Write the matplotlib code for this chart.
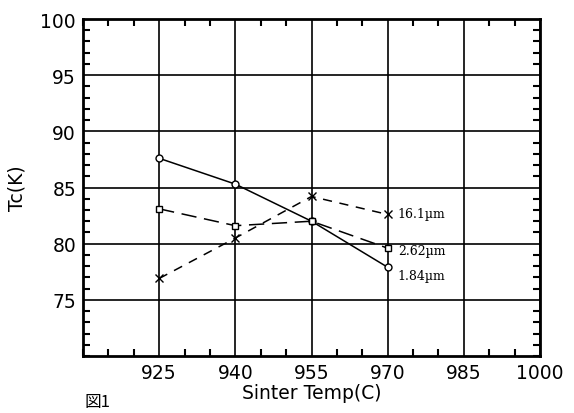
import matplotlib
matplotlib.use("Agg")
import matplotlib.pyplot as plt
from matplotlib.ticker import MultipleLocator, FixedLocator

temps = [925, 940, 955, 970]
tc_184 = [87.6, 85.3, 82.0, 77.9]
tc_262 = [83.1, 81.6, 82.0, 79.6]
tc_161 = [76.9, 80.5, 84.2, 82.6]
labels = ["16.1\u00b5m", "2.62\u00b5m", "1.84\u00b5m"]
xticks = [925, 940, 955, 970, 985, 1000]
yticks = [75, 80, 85, 90, 95, 100]

plt.rcParams['font.family'] = ['DejaVu Sans', 'Noto Sans CJK JP']

fig = plt.figure(figsize=(5.74, 4.14), dpi=100)
ax = fig.add_axes([83/574, 1 - 357/414, (540-83)/574, (357-20)/414])

ax.set_xlim(910, 1000)
ax.set_ylim(70, 100)
ax.xaxis.set_major_locator(FixedLocator(xticks))
ax.yaxis.set_major_locator(FixedLocator(yticks))
ax.xaxis.set_minor_locator(MultipleLocator(5))
ax.yaxis.set_minor_locator(MultipleLocator(1))
ax.grid(True, which='major', color='black', linewidth=1.2)
ax.tick_params(which='both', direction='in', top=True, right=True, colors='black', labelsize=13.5)
ax.tick_params(which='major', length=0, pad=5)
ax.tick_params(which='minor', length=5, width=1.5)
for s in ax.spines.values():
    s.set_linewidth(2)

ax.plot(temps, tc_184, '-', color='black', lw=1.1, marker='o', mfc='white', mec='black', ms=5, zorder=3)
ax.plot(temps, tc_262, color='black', lw=1.1, dashes=(10, 5), marker='s', mfc='white', mec='black', ms=5, zorder=3)
ax.plot(temps, tc_161, color='black', lw=1.1, dashes=(6, 5), marker='x', mec='black', ms=6, zorder=3)

ax.text(972, 82.7, labels[0], fontsize=9, family='DejaVu Serif', va='center')
ax.text(972, 79.4, labels[1], fontsize=9, family='DejaVu Serif', va='center')
ax.text(972, 77.2, labels[2], fontsize=9, family='DejaVu Serif', va='center')

ax.set_xlabel("Sinter Temp(C)", fontsize=13.5, labelpad=1)
ax.set_ylabel("Tc(K)", fontsize=13.5, labelpad=10)

fig.text(85/574, 1 - 403/414, "図1", fontsize=12, family=['Noto Sans CJK JP'], va='center')

fig.savefig("out.png", dpi=100)
